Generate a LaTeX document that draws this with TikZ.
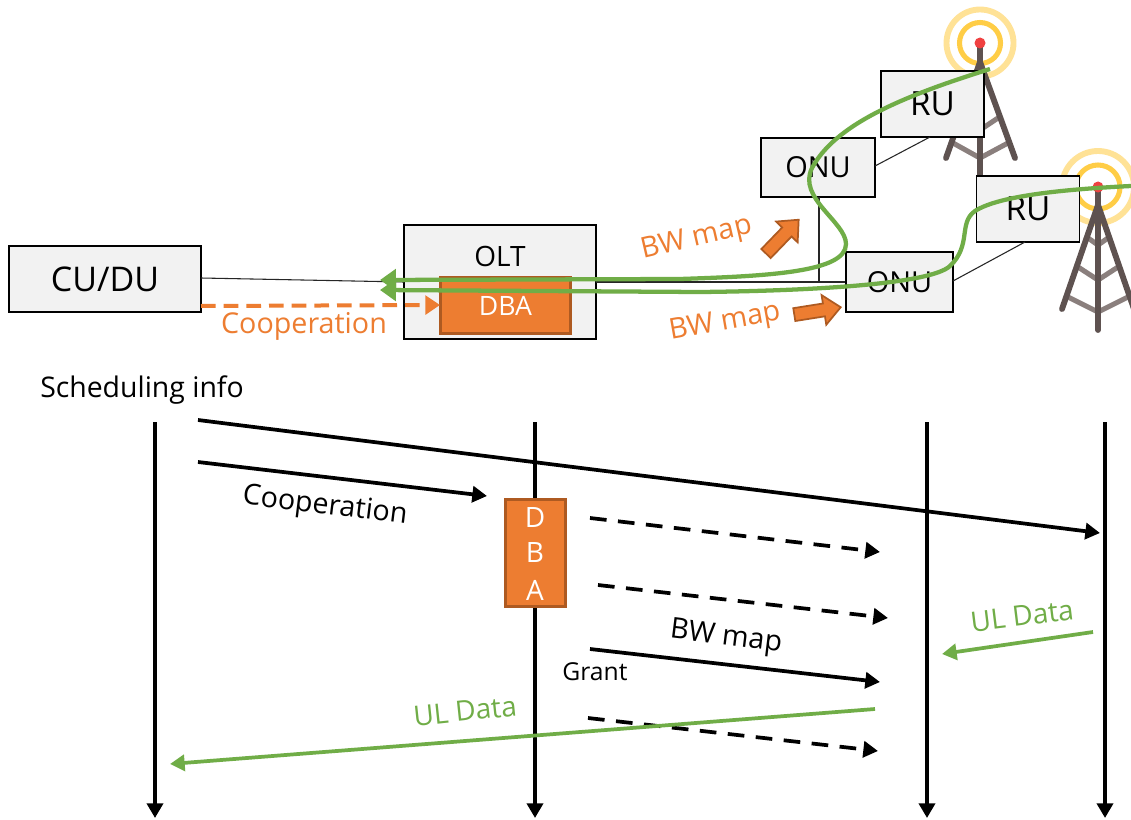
\documentclass[tikz,border=0pt]{standalone}
\usepackage{fontspec}
\setmainfont{Open Sans}
\usetikzlibrary{arrows.meta}
\definecolor{boxfill}{HTML}{F2F2F2}
\definecolor{dbaorange}{HTML}{ED7D31}
\definecolor{dbaedge}{HTML}{AE5A21}
\definecolor{ulgreen}{HTML}{70AD47}
\definecolor{towerdark}{HTML}{5E5250}
\definecolor{towerlight}{HTML}{8A7F7D}
\definecolor{ringout}{HTML}{FFE296}
\definecolor{ringin}{HTML}{FFCD46}
\definecolor{towerred}{HTML}{F04141}
\tikzset{
  box/.style={draw=black,fill=boxfill,line width=1.1pt,inner sep=0pt,text=black},
  dbabox/.style={draw=dbaedge,fill=dbaorange,line width=2.2pt,inner sep=0pt,text=white},
  thin link/.style={draw=black!85,line width=0.8pt},
  green curve/.style={draw=ulgreen,line width=3.2pt,-{Triangle[length=12pt,width=16pt]}},
  seqline/.style={draw=black,line width=2.8pt,-{Triangle[length=11pt,width=12pt]}},
  seqdash/.style={seqline,dash pattern=on 12.5pt off 8.6pt},
  seqgreen/.style={draw=ulgreen,line width=2.8pt,-{Triangle[length=11pt,width=12pt]}},
  blockarrow/.style={draw=dbaedge,fill=dbaorange,line width=1.3pt,line join=miter},
  towerleg/.style={draw=towerdark,line width=4.4pt,line cap=round,line join=round},
  towerbar/.style={draw=towerlight,line width=3.8pt,line cap=round,line join=round},
  lab/.style={inner sep=0pt,font=\fontsize{#1}{#1}\selectfont},
}
\begin{document}
\begin{tikzpicture}[x=0.75pt,y=-0.75pt]
\useasboundingbox (0,0) rectangle (1131,820);
\fill[white] (0,0) rectangle (1131,820);
% tower 1
\draw[ringout,line width=4.4pt] (980,43) circle (33.5);
\draw[ringin,line width=3.8pt] (980,43) circle (20.5);
\draw[towerbar] (953,143) -- (980,158) -- (1008,143);
\draw[towerbar] (962,118) -- (980,130) -- (998,118);
\draw[towerleg] (946,158) -- (980,62) -- (1015,158);
\draw[towerleg] (980,45) -- (980,176);
\fill[towerred] (980,43) circle (5.5);
% tower 2
\draw[ringout,line width=4.4pt] (1098,187) circle (36);
\draw[ringin,line width=3.8pt] (1098,187) circle (22);
\draw[towerbar] (1068,297) -- (1098,312) -- (1128,297);
\draw[towerbar] (1078,267) -- (1098,280) -- (1118,267);
\draw[towerbar] (1088,238) -- (1098,245) -- (1108,238);
\draw[towerleg] (1062,309) -- (1098,205) -- (1134,309);
\draw[towerleg] (1098,190) -- (1098,330);
\fill[towerred] (1098,187) circle (5.5);
% boxes
\node[box,minimum width=144pt,minimum height=49.5pt,lab=25.5] (cudu) at (105,279) {CU/DU};
\node[box,minimum width=144pt,minimum height=85.5pt] (olt) at (500,282) {};
\node[lab=21] (oltlabel) at (500,256) {OLT};
\node[dbabox,minimum width=97pt,minimum height=41.5pt,lab=20] (dba) at (505.5,305.5) {DBA};
\node[box,minimum width=85.5pt,minimum height=44.5pt,lab=21.7] (onua) at (818,167.5) {ONU};
\node[box,minimum width=80.5pt,minimum height=45pt,lab=21.7] (onub) at (899.5,282) {ONU};
\node[box,minimum width=77pt,minimum height=49.5pt,lab=25] (rua) at (932.5,104) {RU};
\node[box,minimum width=77pt,minimum height=49.5pt,lab=25] (rub) at (1028,209) {RU};
% links
\coordinate (oltin) at (404,282);
\coordinate (oltout) at (596,282);
\coordinate (tee) at (819,282);
\coordinate (onuadown) at (819,197);
\draw[thin link] (201,278) -- (oltin);
\draw[thin link] (oltout) -- (onub.west |- oltout);
\draw[thin link] (onuadown) -- (tee);
\draw[thin link] (875,166) -- (930,137);
\draw[thin link] (953,281) -- (1025,242);
% green paths
\coordinate (ga) at (990,69);
\coordinate (gb) at (1131,186);
\coordinate (gaend) at (380,280);
\coordinate (gbend) at (380,290);
\draw[green curve] (ga) .. controls (900,97) and (835,125) .. (812,168) .. controls (797,198) and (846,222) .. (846,244) .. controls (846,272) and (770,276) .. (680,279) -- (gaend);
\draw[green curve] (gb) .. controls (1070,189) and (1000,195) .. (975,211) .. controls (958,223) and (972,245) .. (950,266) .. controls (930,285) and (800,291) .. (700,292) -- (gbend);
% cooperation top
\coordinate (coopa) at (201,306);
\coordinate (coopb) at (440,305);
\draw[draw=dbaorange,line width=3pt,dash pattern=on 11pt off 6pt,-{Triangle[length=11pt,width=14pt]}] (coopa) -- (coopb);
\node[lab=21.5,text=dbaorange] (cooplab) at (304,326) {Cooperation};
\node[lab=21.5,text=dbaorange,rotate=13] (bwa) at (697,239) {BW map};
\node[lab=21.5,text=dbaorange,rotate=10] (bwb) at (725,323) {BW map};
\draw[blockarrow,shift={(782,237)},rotate=46] (-23,-6.5) -- (7,-6.5) -- (7,-15) -- (24,0) -- (7,15) -- (7,6.5) -- (-23,6.5) -- cycle;
\draw[blockarrow,shift={(817,311)},rotate=9] (-23,-6.5) -- (7,-6.5) -- (7,-15) -- (24,0) -- (7,15) -- (7,6.5) -- (-23,6.5) -- cycle;
% sequence
\coordinate (va) at (155,422); \coordinate (vae) at (155,818);
\coordinate (vb) at (535,422); \coordinate (vbe) at (535,818);
\coordinate (vc) at (927,422); \coordinate (vce) at (927,818);
\coordinate (vd) at (1105,422); \coordinate (vde) at (1105,818);
\draw[seqline] (va) -- (vae);
\draw[seqline] (vb) -- (vbe);
\draw[seqline] (vc) -- (vce);
\draw[seqline] (vd) -- (vde);
\node[lab=21.3,anchor=west] (sched) at (40,390) {Scheduling info};
\coordinate (sa) at (198,420); \coordinate (sb) at (1100,533);
\draw[seqline] (sa) -- (sb);
\coordinate (ca) at (198,462); \coordinate (cb) at (487,496);
\draw[seqline] (ca) -- (cb);
\node[lab=21.5,rotate=-7] (cooplow) at (325,507) {Cooperation};
\node[dbabox,minimum width=45.5pt,minimum height=80pt] (dbalow) at (535.5,553) {};
\node[lab=21,text=white] (dd) at (535,518) {D};
\node[lab=21,text=white] (db) at (535,553) {B};
\node[lab=21,text=white] (da) at (535,590) {A};
\coordinate (d1a) at (590,518); \coordinate (d1b) at (880,552);
\coordinate (d2a) at (598,585); \coordinate (d2b) at (888,618);
\coordinate (ma) at (590,649); \coordinate (mb) at (880,682);
\coordinate (d3a) at (588,718); \coordinate (d3b) at (878,751);
\draw[seqdash] (d1a) -- (d1b);
\draw[seqdash] (d2a) -- (d2b);
\draw[seqline] (ma) -- (mb);
\draw[seqdash] (d3a) -- (d3b);
\node[lab=21.5,rotate=-7] (bwlow) at (726,638) {BW map};
\node[lab=18.5] (grant) at (595,672) {Grant};
\coordinate (ua) at (875,709); \coordinate (ub) at (170,764);
\draw[seqgreen] (ua) -- (ub);
\coordinate (uc) at (1093,632); \coordinate (ud) at (942,654);
\draw[seqgreen] (uc) -- (ud);
\node[lab=21,text=ulgreen,rotate=6] (ula) at (465,711) {UL Data};
\node[lab=21,text=ulgreen,rotate=7] (ulb) at (1022,616) {UL Data};
\end{tikzpicture}
\end{document}
